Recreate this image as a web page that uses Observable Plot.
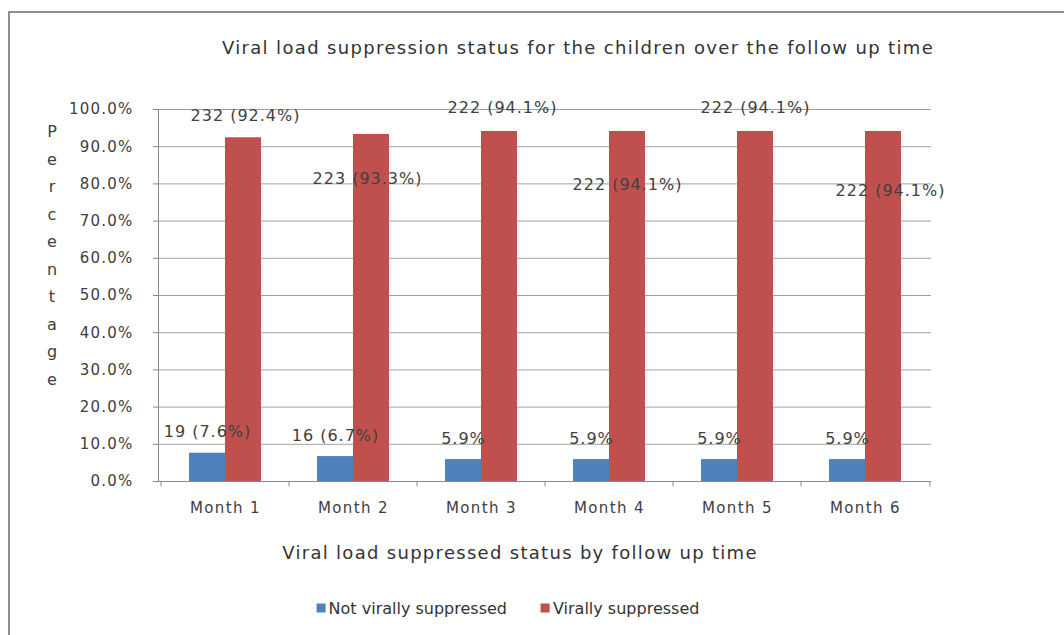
<!DOCTYPE html>
<html>
<head>
<meta charset="utf-8">
<script src="https://cdn.jsdelivr.net/npm/d3@7"></script>
<script src="https://cdn.jsdelivr.net/npm/@observablehq/plot@0.6"></script>
<style>
  html, body { margin: 0; padding: 0; background: #fff; }
  body { width: 1064px; height: 635px; overflow: hidden; position: relative; font-family: "DejaVu Sans", sans-serif; color: #404040; }
  #frame { position: absolute; left: 8px; top: 11px; width: 1100px; height: 700px; border: 2px solid #8f8f8f; box-sizing: border-box; }
  .abs { position: absolute; white-space: nowrap; transform: translate(-50%, -50%); }
  #title { left: 578px; top: 47px; font-size: 18px; letter-spacing: 1.35px; color: #333; }
  #xtitle { left: 520px; top: 552px; font-size: 18px; letter-spacing: 1.3px; color: #333; }
  #ylabel { position: absolute; left: 52px; top: 118px; width: 20px; margin-left: -10px; text-align: center; font-size: 16px; line-height: 27.5px; color: #404040; }
  #legend { left: 508px; top: 608px; font-size: 16px; display: flex; gap: 34px; color: #333; }
  #legend span.sw { display: inline-block; width: 9px; height: 9px; margin-right: 3px; vertical-align: 1px; }
  #chart { position: absolute; left: 0; top: 90px; }
  #chart g[aria-label="y-axis tick label"] text { letter-spacing: 1.2px; }
  #chart g[aria-label="x-axis tick label"] text { letter-spacing: 1.4px; }
  #chart g[aria-label="text"] text { letter-spacing: 1px; }
</style>
</head>
<body>
<div id="frame"></div>
<div id="title" class="abs"></div>
<div id="ylabel"></div>
<div id="chart"></div>
<div id="xtitle" class="abs"></div>
<div id="legend" class="abs"></div>
<script>
// ---- data ----
const months = ["Month 1", "Month 2", "Month 3", "Month 4", "Month 5", "Month 6"];
const seriesNames = ["Not virally suppressed", "Virally suppressed"];
const notSuppressed = [7.6, 6.7, 5.9, 5.9, 5.9, 5.9];
const suppressed = [92.4, 93.3, 94.1, 94.1, 94.1, 94.1];
const notSuppressedLabels = ["19 (7.6%)", "16 (6.7%)", "5.9%", "5.9%", "5.9%", "5.9%"];
const suppressedLabels = ["232 (92.4%)", "223 (93.3%)", "222 (94.1%)", "222 (94.1%)", "222 (94.1%)", "222 (94.1%)"];
const yTicks = [0, 10, 20, 30, 40, 50, 60, 70, 80, 90, 100];
const titleText = "Viral load suppression status for the children over the follow up time";
const xTitleText = "Viral load suppressed status by follow up time";
const yTitleText = "Percentage";

// ---- styling / layout ----
const colors = ["#4F81BD", "#C0504D"];
const supDy = [-22, 44, -24, 53, -24, 59];   // manual label placement offsets (px)
const supDx = [2, -4, 3, 0, 0, 7];

document.getElementById("title").textContent = titleText;
document.getElementById("xtitle").textContent = xTitleText;
document.getElementById("ylabel").innerHTML = yTitleText.split("").map(c => `<div>${c}</div>`).join("");
document.getElementById("legend").innerHTML = seriesNames.map((s, i) =>
  `<div><span class="sw" style="background:${colors[i]}"></span>${s}</div>`).join("");

const rows = months.map((m, i) => ({
  month: m, not: notSuppressed[i], sup: suppressed[i],
  notLabel: notSuppressedLabels[i], supLabel: suppressedLabels[i]
}));

const W = 1064, H = 430, mL = 158, mR = 133;
const step = (W - mL - mR) / months.length;
const half = step / 2;
const barW = 36;
const pad = 1 - (2 * barW) / step;

const chart = Plot.plot({
  width: W, height: H,
  marginLeft: mL, marginRight: mR, marginTop: 19, marginBottom: 39,
  style: { fontFamily: "DejaVu Sans, sans-serif", background: "transparent", overflow: "visible" },
  x: { domain: months, paddingInner: pad, paddingOuter: pad / 2, align: 0.5 },
  y: { domain: [0, 100] },
  marks: [
    Plot.ruleY(yTicks.filter(d => d > 0), { stroke: "#a0a0a0", strokeWidth: 1 }),
    Plot.axisY({ ticks: yTicks, tickFormat: d => d.toFixed(1) + "%", tickSize: 5, tickPadding: 20,
      fontSize: 15, fill: "#404040", stroke: "#8a8a8a", label: null }),
    Plot.frame({ anchor: "left", stroke: "#8a8a8a" }),
    Plot.barY(rows, { x: "month", y: "not", fill: colors[0], insetRight: barW }),
    Plot.barY(rows, { x: "month", y: "sup", fill: colors[1], insetLeft: barW }),
    Plot.ruleY([0], { stroke: "#8a8a8a", dx: -5 }),
    Plot.ruleY([0], { stroke: "#8a8a8a" }),
    Plot.ruleX(months, { x: d => d, y1: 0, y2: -1.5, dx: -half, stroke: "#8a8a8a" }),
    Plot.ruleX(months.slice(-1), { x: d => d, y1: 0, y2: -1.5, dx: half, stroke: "#8a8a8a" }),
    Plot.axisX({ tickSize: 0, tickPadding: 21, fontSize: 15, fill: "#404040", label: null }),
    Plot.text(rows, { x: "month", y: "not", text: "notLabel", dx: -barW / 2, dy: -21,
      fontSize: 16, fill: "#404040" }),
    ...rows.map((r, i) => Plot.text([r], { x: "month", y: "sup", text: "supLabel",
      dx: barW / 2 + supDx[i], dy: supDy[i], fontSize: 16, fill: "#404040" }))
  ]
});
document.getElementById("chart").appendChild(chart);
</script>
</body>
</html>
